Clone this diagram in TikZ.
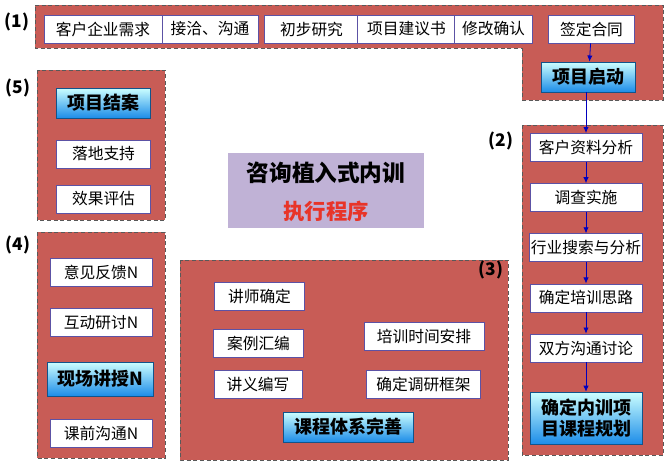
\documentclass[tikz,border=0pt]{standalone}
\usepackage{fontspec}
\setmainfont{Noto Sans CJK SC}
\usetikzlibrary{arrows.meta,positioning}

\definecolor{regionred}{RGB}{200,92,86}
\definecolor{boxline}{RGB}{92,82,165}
\definecolor{keyblue}{RGB}{28,140,232}
\definecolor{titlebg}{RGB}{192,178,214}
\definecolor{titlered}{RGB}{232,52,40}

\begin{document}
\begin{tikzpicture}[
  x=0.75pt,y=-0.75pt,
  node distance=16pt,
  region/.style={fill=regionred,draw=gray!70!black,densely dashed,semithick},
  stepbox/.style={rectangle,draw=boxline,fill=white,semithick,
    font=\fontsize{11.8}{13}\selectfont,inner sep=1pt,minimum height=21pt},
  keybox/.style={rectangle,draw=keyblue!60!black,semithick,
    top color=cyan!20!white,middle color=white,bottom color=keyblue,
    font=\bfseries\fontsize{13.5}{16}\selectfont,align=center,inner sep=1pt,minimum height=22.5pt},
  arrow/.style={-{Latex[length=1.6mm,width=1.4mm]},draw=blue!75!black,semithick},
  tag/.style={font=\bfseries\fontsize{13}{15}\selectfont}
]
\useasboundingbox (0,0) rectangle (669,472);

% region frames
\draw[region] (35,5) -- (663,5) -- (663,100) -- (522,100) -- (522,48) -- (35,48) -- cycle;
\draw[region] (522,125) rectangle (663,455);
\draw[region] (180,260) rectangle (508,460);
\draw[region] (37,232) rectangle (165,458);
\draw[region] (37,70) rectangle (165,220);

\node[tag] (tag1) at (17,22) {(1)};
\node[tag] (tag2) at (501,141) {(2)};
\node[tag] (tag3) at (491,270) {(3)};
\node[tag] (tag4) at (18,245) {(4)};
\node[tag] (tag5) at (18,88) {(5)};

% (1) contract
\node[stepbox,minimum width=88.5pt] (need) at (103,29) {客户企业需求};
\node[stepbox,minimum width=72pt] (contact) at (210,29) {接洽、沟通};
\node[stepbox,minimum width=70pt] (study) at (311.5,29) {初步研究};
\node[stepbox,minimum width=73pt] (proposal) at (406.5,29) {项目建议书};
\node[stepbox,minimum width=58pt] (revise) at (493.5,29) {修改确认};
\node[stepbox,minimum width=65pt] (sign) at (591.5,29) {签定合同};
\node[keybox,minimum width=71pt] (kickoff) at (588.5,77) {项目启动};

% (2) analysis
\node[stepbox,minimum width=84pt] (client) at (586,147.5) {客户资料分析};
\node[stepbox,minimum width=84pt,below=of client] (survey) {调查实施};
\node[stepbox,minimum width=84pt,below=of survey] (industry) {行业搜索与分析};
\node[stepbox,minimum width=84pt,below=of industry] (idea) {确定培训思路};
\node[stepbox,minimum width=84pt,below=of idea] (discuss) {双方沟通讨论};
\node[keybox,minimum width=84pt,minimum height=39pt,below=22pt of discuss] (plan) {确定内训项\\目课程规划};

\draw[arrow] (sign) -- (kickoff);
\draw[arrow] (kickoff.south -| client.north) -- (client);
\foreach \a/\b in {client/survey,survey/industry,industry/idea,idea/discuss,discuss/plan}
  \draw[arrow] (\a) -- (\b);

% (3) course design
\node[stepbox,minimum width=68pt] (lecturer) at (259.5,296) {讲师确定};
\node[stepbox,minimum width=67pt] (cases) at (258.5,343.5) {案例汇编};
\node[stepbox,minimum width=66pt] (notes) at (258,384) {讲义编写};
\node[stepbox,minimum width=90pt] (schedule) at (424,336) {培训时间安排};
\node[stepbox,minimum width=85pt] (frame) at (423.5,384) {确定调研框架};
\node[keybox,minimum width=98pt] (system) at (348.5,427) {课程体系完善};

% (4) delivery
\node[stepbox,minimum width=76.5pt] (feedback) at (101,272.5) {意见反馈N};
\node[stepbox,minimum width=76.5pt] (seminar) at (101,322.5) {互动研讨N};
\node[keybox,minimum width=79pt,minimum height=25.5pt] (lecture) at (100.5,379) {现场讲授N};
\node[stepbox,minimum width=76.5pt] (precomm) at (101,433) {课前沟通N};

% (5) closing
\node[keybox,minimum width=70pt] (closing) at (103.5,103) {项目结案};
\node[stepbox,minimum width=70pt] (support) at (103.5,154) {落地支持};
\node[stepbox,minimum width=70pt] (assess) at (103.5,199) {效果评估};

% title
\fill[titlebg] (228,153) rectangle (424,228);
\node[font=\bfseries\fontsize{17}{20}\selectfont] (title) at (326,173) {咨询植入式内训};
\node[font=\bfseries\fontsize{16}{19}\selectfont,text=titlered] (subtitle) at (326,211) {执行程序};
\end{tikzpicture}
\end{document}
